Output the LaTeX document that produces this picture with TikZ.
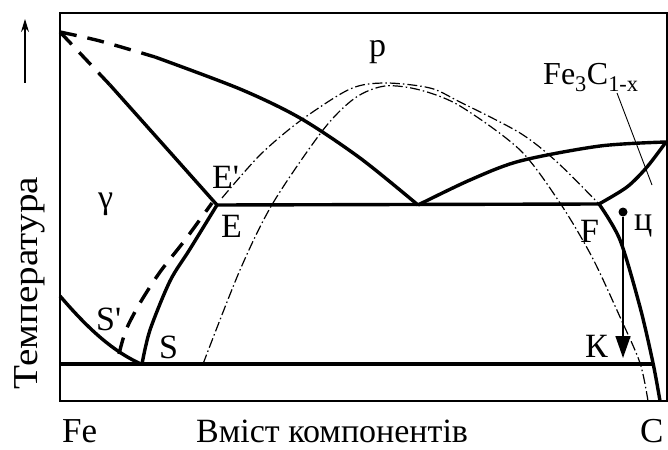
\documentclass[tikz,border=0pt]{standalone}
\usepackage{fontspec}
\setmainfont{Liberation Serif}
\usetikzlibrary{arrows.meta}
\tikzset{
  thickl/.style={line width=3.4pt, line join=round},
  framel/.style={line width=2pt},
  dashl/.style={line width=3.4pt, dash pattern=on 17pt off 11pt},
  dashdotl/.style={line width=1.2pt, dash pattern=on 10pt off 3pt on 1.5pt off 3pt},
  thinl/.style={line width=0.9pt},
  lab/.style={inner sep=0pt, anchor=base west, font=\fontsize{34}{38}\selectfont},
  big/.style={inner sep=0pt, anchor=base west, font=\fontsize{35}{40}\selectfont},
}
\begin{document}
\begin{tikzpicture}[x=1pt,y=-1pt]
\useasboundingbox (0,0) rectangle (668,449);
% frame
\draw[framel] (60,13) rectangle (667,401);
% key points
\coordinate (T0) at (60,32);
\coordinate (E) at (217,205);
\coordinate (M) at (418,205);
\coordinate (F) at (599,204);
\coordinate (R) at (666,142);
\coordinate (SL) at (60,364);
\coordinate (SR) at (652,364);
\coordinate (Fb) at (660,401);
% horizontal lines
\draw[thickl] (E) -- (F);
\draw[thickl] (SL) -- (SR);
% upper left curve: dashed then solid
\draw[dashl] plot[smooth] coordinates {(60,32) (100,41) (155,57)};
\draw[thickl] plot[smooth] coordinates {(155,57) (240,89) (300,118) (360,158) (M)};
% second curve from top left to E
\draw[dashl] (T0) -- (110,85);
\draw[thickl] plot[smooth] coordinates {(110,85) (160,141) (E)};
% right liquidus
\draw[thickl] plot[smooth] coordinates {(M) (470,180) (520,161) (600,146) (R)};
% F to R
\draw[thickl] plot[smooth] coordinates {(F) (627,187) (647,167) (R)};
% F down
\draw[thickl] plot[smooth] coordinates {(F) (620,240) (640,307) (653,363) (Fb)};
% left bottom curve
\draw[thickl] (60,296) .. controls (85,325) and (110,350) .. (141,364);
% S to E
\draw[thickl] plot[smooth] coordinates {(142,364) (150,330) (170,281) (190,249) (E)};
% S' to E' dashed
\draw[dashl] plot[smooth] coordinates {(119,354) (126,330) (140,303) (160,272) (185,240) (212,203)};
% dash-dot curves
\draw[dashdotl] plot[smooth] coordinates {(203,364) (240,270) (273,203) (323,130) (355,98) (385,86) (420,90) (460,106) (520,150) (560,203) (592,257) (620,317) (640,363) (648,401)};
\draw[dashdotl] plot[smooth] coordinates {(222,198) (260,155) (300,121) (350,89) (385,83) (430,88) (460,102) (520,133) (557,162) (F)};
% Fe3C leader
\coordinate (L1) at (617,93);
\coordinate (L2) at (652,185);
\draw[thinl] (L1) -- (L2);
% cooling arrow
\node[circle, fill, inner sep=0pt, minimum size=9pt] (dot) at (623,212) {};
\coordinate (arrEnd) at (623,358);
\draw[line width=1.5pt, -{Triangle[length=22pt,width=15pt]}] (dot) -- (arrEnd);
% temperature arrow
\coordinate (ta) at (25,83);
\coordinate (tb) at (25,19);
\draw[line width=1.2pt, -{Stealth[length=13pt,width=8pt]}] (ta) -- (tb);
% labels
\node[lab] (lp) at (369,57) {p};
\node[lab, font=\fontsize{32}{36}\selectfont] (lfe3c) at (543,85) {Fe\textsubscript{3}C\textsubscript{1-x}};
\node[lab] (lg) at (98,208) {γ};
\node[lab] (lEp) at (212,188) {E\textquotesingle};
\node[lab] (lE) at (221,237) {E};
\node[lab] (lSp) at (96,330) {S\textquotesingle};
\node[lab] (lS) at (159,358) {S};
\node[lab] (lF) at (580,242) {F};
\node[lab] (lc) at (634,230) {ц};
\node[lab] (lK) at (585,357) {К};
\node[big] (lFe) at (62,442) {Fe};
\node[big, font=\fontsize{34}{38}\selectfont] (lx) at (196,442) {Вміст компонентів};
\node[big] (lC) at (640,442) {C};
\node[big, anchor=base, rotate=90] (ly) at (37,283) {\scalebox{1.12}[1]{Температура}};
\end{tikzpicture}
\end{document}
